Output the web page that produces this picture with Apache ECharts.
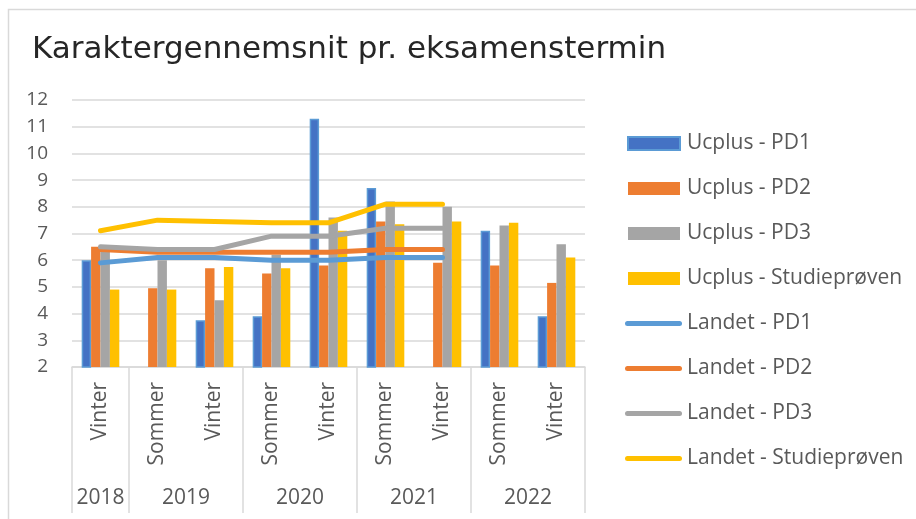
<!DOCTYPE html>
<html>
<head>
<meta charset="utf-8">
<script src="https://cdn.jsdelivr.net/npm/echarts@6/dist/echarts.min.js"></script>
<style>
    html, body { margin: 0; padding: 0; background: #fff; }
    #chart { width: 916px; height: 519px; }
</style>
</head>
<body>
<div id="chart"></div>
<script>
// terms on the lower axis level, years on the upper level
const terms = ['Vinter', 'Sommer', 'Vinter', 'Sommer', 'Vinter', 'Sommer', 'Vinter', 'Sommer', 'Vinter'];
const years = ['2018', '2019', '2020', '2021', '2022'];
const yearSpans = [1, 2, 2, 2, 2];

const yTicks = [2, 3, 4, 5, 6, 7, 8, 9, 10, 11, 12];

// Ucplus (bars)
const ucplusPD1 = [6.0, null, 3.75, 3.9, 11.3, 8.7, null, 7.1, 3.9];
const ucplusPD2 = [6.5, 4.95, 5.7, 5.5, 5.8, 7.45, 5.9, 5.8, 5.15];
const ucplusPD3 = [6.5, 6.0, 4.5, 6.2, 7.6, 8.2, 8.0, 7.3, 6.6];
const ucplusStudie = [4.9, 4.9, 5.75, 5.7, 7.1, 7.35, 7.45, 7.4, 6.1];

// Landet (lines)
const landetPD1 = [5.9, 6.1, 6.1, 6.0, 6.0, 6.1, 6.1, null, null];
const landetPD2 = [6.4, 6.3, 6.3, 6.3, 6.3, 6.4, 6.4, null, null];
const landetPD3 = [6.5, 6.4, 6.4, 6.9, 6.9, 7.2, 7.2, null, null];
const landetStudie = [7.1, 7.5, 7.45, 7.4, 7.4, 8.1, 8.1, null, null];

// year boundaries and label centres on a 0..9 scale
const yearBounds = [0];
const yearCenters = [];
yearSpans.forEach(function (s, i) {
    yearCenters.push(yearBounds[i] + s / 2);
    yearBounds.push(yearBounds[i] + s);
});

const font = 'Open Sans';
const txt = '#595959';
const gridCol = '#d9d9d9';

// legend icons: the two empty corner points keep the box at 57x14
const barIcon = 'path://M0,0L0,0M57,14L57,14M3,0.5h52v13h-52z';
const lineIcon = 'path://M0,0L0,0M57,14L57,14M2.5,4.5h52a2.5,2.5 0 0 1 0,5h-52a2.5,2.5 0 0 1 0,-5z';

const barSeries = function (name, data, color, border) {
    return {
        name: name,
        type: 'bar',
        data: data,
        barGap: '0%',
        barCategoryGap: '34%',
        itemStyle: border
            ? { color: color, borderColor: border, borderWidth: 1.5 }
            : { color: color }
    };
};

const lineSeries = function (name, data, color) {
    return {
        name: name,
        type: 'line',
        data: data,
        symbol: 'none',
        lineStyle: { color: color, width: 5, cap: 'round', join: 'round' },
        itemStyle: { color: color },
        z: 3
    };
};

const myChart = echarts.init(document.getElementById('chart'));
const option = {
    animation: false,
    textStyle: { fontFamily: font },
    title: {
        text: 'Karaktergennemsnit pr. eksamenstermin',
        left: 32,
        top: 34,
        padding: 0,
        textStyle: { fontFamily: 'DejaVu Sans', fontSize: 31, fontWeight: 'normal', color: '#262626' }
    },
    graphic: [{
        type: 'rect',
        shape: { x: 8.5, y: 9.5, width: 1000, height: 1000 },
        style: { fill: 'none', stroke: gridCol, lineWidth: 1.5 },
        silent: true
    }],
    legend: {
        orient: 'vertical',
        left: 624,
        top: 133,
        padding: 0,
        itemWidth: 57,
        itemHeight: 14,
        itemGap: 24,
        textStyle: { fontFamily: font, fontSize: 21, color: txt, lineHeight: 20 },
        data: [
            { name: 'Ucplus - PD1', icon: barIcon },
            { name: 'Ucplus - PD2', icon: barIcon },
            { name: 'Ucplus - PD3', icon: barIcon },
            { name: 'Ucplus - Studieprøven', icon: barIcon },
            { name: 'Landet - PD1', icon: lineIcon },
            { name: 'Landet - PD2', icon: lineIcon },
            { name: 'Landet - PD3', icon: lineIcon },
            { name: 'Landet - Studieprøven', icon: lineIcon }
        ]
    },
    grid: { left: 72, right: 331, top: 100, bottom: 152 },
    xAxis: [{
        type: 'category',
        data: terms,
        axisLine: { lineStyle: { color: gridCol, width: 1.5 } },
        axisTick: { show: false },
        axisLabel: { rotate: 90, margin: 15, fontSize: 21, color: txt, fontFamily: font }
    }, {
        type: 'value',
        min: 0,
        max: yearBounds[yearBounds.length - 1],
        position: 'bottom',
        axisLine: { show: false },
        splitLine: { show: false },
        axisTick: {
            show: true,
            customValues: yearBounds,
            length: 146,
            lineStyle: { color: gridCol, width: 1.5 }
        },
        axisLabel: {
            customValues: yearCenters,
            margin: 121,
            fontSize: 21,
            color: txt,
            fontFamily: font,
            formatter: function (v) {
                const i = yearCenters.indexOf(v);
                return i >= 0 ? years[i] : '';
            }
        }
    }],
    yAxis: {
        type: 'value',
        min: yTicks[0],
        max: yTicks[yTicks.length - 1],
        interval: 1,
        axisLine: { show: false },
        axisTick: { show: false },
        axisLabel: { margin: 24, fontSize: 19, color: txt, fontFamily: font },
        splitLine: { lineStyle: { color: gridCol, width: 1.5 } }
    },
    series: [
        barSeries('Ucplus - PD1', ucplusPD1, '#4472C4', '#5B9BD5'),
        barSeries('Ucplus - PD2', ucplusPD2, '#ED7D31'),
        barSeries('Ucplus - PD3', ucplusPD3, '#A5A5A5'),
        barSeries('Ucplus - Studieprøven', ucplusStudie, '#FFC000'),
        lineSeries('Landet - PD1', landetPD1, '#5B9BD5'),
        lineSeries('Landet - PD2', landetPD2, '#ED7D31'),
        lineSeries('Landet - PD3', landetPD3, '#A5A5A5'),
        lineSeries('Landet - Studieprøven', landetStudie, '#FFC000')
    ]
};
myChart.setOption(option);

window.addEventListener('resize', function () {
    myChart.resize();
});
</script>
</body>
</html>
